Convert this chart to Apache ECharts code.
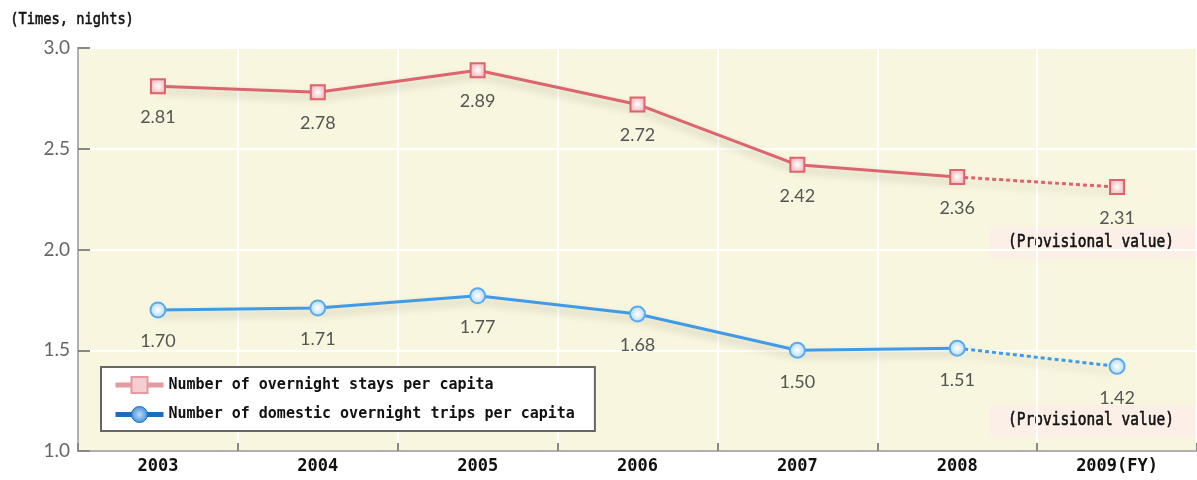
<!DOCTYPE html>
<html>
<head>
<meta charset="utf-8">
<script src="https://cdn.jsdelivr.net/npm/echarts@6/dist/echarts.min.js"></script>
<style>
html,body{margin:0;padding:0;background:#fff;}
#chart{width:1197px;height:480px;}
</style>
</head>
<body>
<div id="chart"></div>
<script>
const years = ['2003','2004','2005','2006','2007','2008','2009'];
const stays = [2.81, 2.78, 2.89, 2.72, 2.42, 2.36, 2.31];
const trips = [1.70, 1.71, 1.77, 1.68, 1.50, 1.51, 1.42];
const yTicks = [1.0, 1.5, 2.0, 2.5, 3.0];
const staysName = 'Number of overnight stays per capita';
const tripsName = 'Number of domestic overnight trips per capita';
const unitLabel = '(Times, nights)';
const provisionalText = '(Provisional value)';

const lastIdx = years.length - 1;
const RED = '#dc646c', BLUE = '#3f9be8';
const mono = '"DejaVu Sans Mono", "Liberation Mono", monospace';

function solidData(arr){ return arr.slice(0, lastIdx); }
function dashedData(arr){
  return arr.map((v,i)=>{
    if (i < lastIdx-1) return null;
    if (i === lastIdx-1) return {value: v, symbol: 'none', label: {show:false}};
    return v;
  });
}
function redMarker(){
  return {
    color: {type:'radial', x:0.5, y:0.5, r:0.6, colorStops:[{offset:0,color:'#ffffff'},{offset:1,color:'#f2a9ae'}]},
    borderColor: RED, borderWidth: 2
  };
}
function blueMarker(){
  return {
    color: {type:'radial', x:0.5, y:0.5, r:0.6, colorStops:[{offset:0,color:'#ffffff'},{offset:1,color:'#9fd0f7'}]},
    borderColor: '#5aaaf0', borderWidth: 2
  };
}
const labelCfg = {
  show: true, position: 'bottom', distance: 14,
  fontFamily: 'Lato, "Open Sans", sans-serif', fontSize: 18, color: '#555',
  formatter: p => Number(p.value).toFixed(2)
};
const shadow = {shadowColor:'rgba(0,0,0,0.22)', shadowBlur:8, shadowOffsetY:5};
const heavyText = {fill: '#111', stroke: '#111', lineWidth: 0.5};

const chart = echarts.init(document.getElementById('chart'));
chart.setOption({
  animation: false,
  backgroundColor: '#ffffff',
  textStyle: {fontFamily: mono},
  grid: {left: 78, right: 0, top: 48, bottom: 29, show: true,
         backgroundColor: '#f8f6de', borderColor: '#cfcfcf', borderWidth: 2},
  xAxis: {
    type: 'category', data: years, boundaryGap: true,
    axisLine: {show: true, lineStyle: {color: '#b0b0b0', width: 2}},
    axisTick: {show: true, inside: true, length: 8, lineStyle: {color: '#888', width: 2}},
    splitLine: {show: true, lineStyle: {color: '#ffffff', width: 2}},
    axisLabel: {margin: 7, fontFamily: mono, fontWeight: 'bold', fontSize: 17, color: '#111',
      formatter: (v, i) => i === lastIdx ? v + '(FY)' : v}
  },
  yAxis: {
    type: 'value', min: yTicks[0], max: yTicks[yTicks.length-1], interval: 0.5,
    axisLine: {show: true, lineStyle: {color: '#b0b0b0', width: 2}},
    axisTick: {show: true, inside: true, length: 12, lineStyle: {color: '#888', width: 2}},
    splitLine: {show: true, lineStyle: {color: '#ffffff', width: 2}},
    axisLabel: {margin: 8, fontFamily: 'Lato, "Open Sans", sans-serif', fontSize: 19, color: '#666',
      formatter: v => v.toFixed(1)}
  },
  legend: {
    orient: 'vertical', left: 101, top: 367,
    backgroundColor: '#ffffff', borderColor: '#666', borderWidth: 2,
    padding: [9, 20, 8, 12], itemGap: 12, itemWidth: 48, itemHeight: 20,
    textStyle: {fontFamily: mono, fontSize: 15, fontWeight: 'bold', color: '#111'},
    data: [
      {name: staysName, itemStyle: {color: '#f6cdd0', borderColor: '#e39aa0', borderWidth: 2}, lineStyle: {color: '#e39aa0', width: 5}},
      {name: tripsName, itemStyle: {color: {type:'radial',x:0.5,y:0.5,r:0.6,colorStops:[{offset:0,color:'#b9dcf8'},{offset:1,color:'#2f80cf'}]}, borderColor: '#1d6bbd', borderWidth: 1}, lineStyle: {color: '#1d6bbd', width: 5}}
    ]
  },
  graphic: [
    {type:'text', left: 10, top: 11, scaleY: 1.2, style: Object.assign({text: unitLabel, font: '13.7px ' + mono}, heavyText)},
    {type:'group', left: 989, top: 227, children: [
      {type:'rect', shape:{x:0,y:0,width:206,height:32}, style:{fill:'#fcefe7'}},
      {type:'text', x: 19, y: 6, scaleY: 1.2, style: Object.assign({text: provisionalText, font: '14.5px ' + mono}, heavyText)}
    ]},
    {type:'group', left: 989, top: 405, children: [
      {type:'rect', shape:{x:0,y:0,width:206,height:32}, style:{fill:'#fcefe7'}},
      {type:'text', x: 19, y: 6, scaleY: 1.2, style: Object.assign({text: provisionalText, font: '14.5px ' + mono}, heavyText)}
    ]}
  ],
  series: [
    {name: staysName + ' (provisional)', type: 'line', data: dashedData(stays), z: 2,
     symbol: 'rect', symbolSize: 14, itemStyle: redMarker(),
     lineStyle: Object.assign({color: RED, width: 3, type: [4, 3]}, shadow), label: labelCfg},
    {name: staysName, type: 'line', data: solidData(stays), z: 3,
     symbol: 'rect', symbolSize: 14, itemStyle: redMarker(),
     lineStyle: Object.assign({color: RED, width: 3}, shadow), label: labelCfg},
    {name: tripsName + ' (provisional)', type: 'line', data: dashedData(trips), z: 2,
     symbol: 'circle', symbolSize: 15, itemStyle: blueMarker(),
     lineStyle: Object.assign({color: BLUE, width: 3, type: [4, 3]}, shadow), label: labelCfg},
    {name: tripsName, type: 'line', data: solidData(trips), z: 3,
     symbol: 'circle', symbolSize: 15, itemStyle: blueMarker(),
     lineStyle: Object.assign({color: BLUE, width: 3}, shadow), label: labelCfg}
  ]
});
</script>
</body>
</html>
